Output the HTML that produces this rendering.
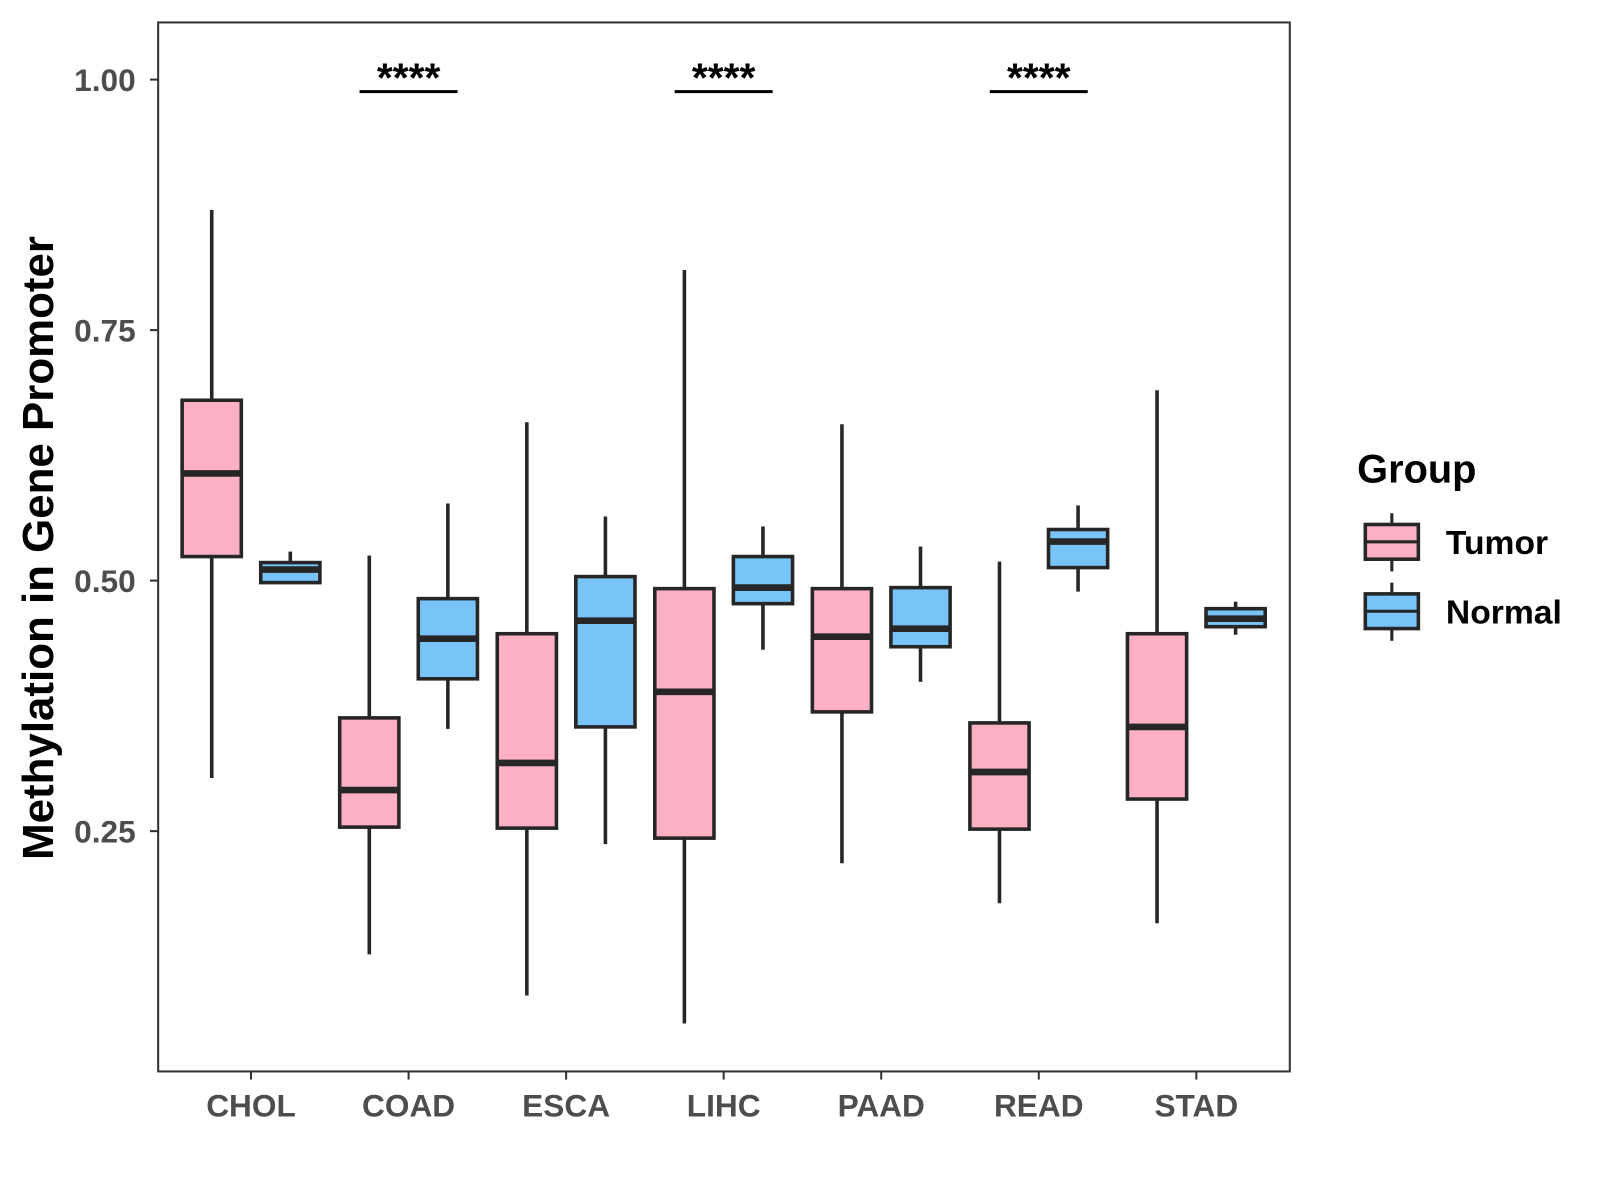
<!DOCTYPE html>
<html><head><meta charset="utf-8"><style>
body{margin:0;background:#fff;}
svg{display:block;font-family:"Liberation Sans",Arial,sans-serif;}
</style></head><body>
<svg id="chart" width="1600" height="1200" viewBox="0 0 1568 1176">
<rect x="0" y="0" width="1568" height="1176" fill="#fff"/>
<g id="plot"></g>
</svg>
<script>
const categories = ["CHOL","COAD","ESCA","LIHC","PAAD","READ","STAD"];
const tumorLow  = [0.303,0.127,0.086,0.058,0.218,0.178,0.158];
const tumorQ1   = [0.524,0.254,0.253,0.243,0.369,0.252,0.282];
const tumorMed  = [0.607,0.291,0.318,0.389,0.444,0.309,0.354];
const tumorQ3   = [0.680,0.363,0.447,0.492,0.492,0.358,0.447];
const tumorHigh = [0.870,0.525,0.658,0.810,0.656,0.519,0.690];
const normalLow  = [0.498,0.352,0.237,0.431,0.399,0.489,0.446];
const normalQ1   = [0.498,0.402,0.354,0.477,0.434,0.513,0.454];
const normalMed  = [0.511,0.442,0.460,0.493,0.452,0.539,0.462];
const normalQ3   = [0.518,0.482,0.504,0.524,0.493,0.551,0.472];
const normalHigh = [0.529,0.577,0.564,0.554,0.534,0.575,0.479];
const yTicks = [0.25,0.50,0.75,1.00];
const yTickLabels = ["0.25","0.50","0.75","1.00"];
const sigCategories = ["COAD","LIHC","READ"];
const sigLabels = ["****","****","****"];
const sigLevel = 0.988;

const NS="http://www.w3.org/2000/svg";
const g=document.getElementById('plot');
const L=155,R=1264,T=22,B=1050;
function y(v){return 569-(v-0.5)*982;}
function x(i){return 246+i*154.4;}
function mk(tag,attrs,parent){const e=document.createElementNS(NS,tag);for(const k in attrs)e.setAttribute(k,attrs[k]);(parent||g).appendChild(e);return e;}
const line="#262626";

yTicks.forEach((v,i)=>{
  const t=mk('line',{x1:L-8,x2:L,y1:y(v),y2:y(v),stroke:"#333","stroke-width":2});
  
  
  const tx=mk('text',{x:L-22,y:y(v)+11,"text-anchor":"end","font-size":31,"font-weight":"bold",fill:"#4d4d4d"});
  tx.textContent=yTickLabels[i];
  
  
});
categories.forEach((c,i)=>{
  const t=mk('line',{x1:x(i),x2:x(i),y1:B,y2:B+8,stroke:"#333","stroke-width":2});
  
  
  const tx=mk('text',{x:x(i),y:B+44,"text-anchor":"middle","font-size":31,"font-weight":"bold",fill:"#4d4d4d"});
  tx.textContent=c;
  
  
});

function box(cx,lo,q1,md,q3,hi,fill,name){
  const w=58;
  const gg=mk('g',{});
  
  
  mk('line',{x1:cx,x2:cx,y1:y(hi),y2:y(q3),stroke:line,"stroke-width":3.5},gg);
  mk('line',{x1:cx,x2:cx,y1:y(q1),y2:y(lo),stroke:line,"stroke-width":3.5},gg);
  mk('rect',{x:cx-w/2,y:y(q3),width:w,height:Math.max(0.5,y(q1)-y(q3)),fill:fill,stroke:line,"stroke-width":3.5},gg);
  mk('line',{x1:cx-w/2,x2:cx+w/2,y1:y(md),y2:y(md),stroke:line,"stroke-width":6.5},gg);
}
categories.forEach((c,i)=>{
  box(x(i)-38.5,tumorLow[i],tumorQ1[i],tumorMed[i],tumorQ3[i],tumorHigh[i],"#FBB0C3","box-tumor-"+c.toLowerCase());
  box(x(i)+38.5,normalLow[i],normalQ1[i],normalMed[i],normalQ3[i],normalHigh[i],"#78C3F7","box-normal-"+c.toLowerCase());
});
sigCategories.forEach((c,k)=>{
  const i=categories.indexOf(c);
  const l=mk('line',{x1:x(i)-48,x2:x(i)+48,y1:y(sigLevel),y2:y(sigLevel),stroke:"#000","stroke-width":3});
  
  
  const t=mk('text',{x:x(i),y:y(sigLevel),"text-anchor":"middle","font-size":40,"font-weight":"bold",fill:"#000"});
  t.textContent=sigLabels[k];
  
  
});
const fr=mk('rect',{x:L,y:T,width:R-L,height:B-T,fill:"none",stroke:"#333","stroke-width":2});


</script>
<svg style="position:absolute;left:0;top:0" width="1600" height="1200" viewBox="0 0 1568 1176">
<text x="52" y="537" transform="rotate(-90 52 537)" text-anchor="middle" font-size="43" font-weight="bold" fill="#000">Methylation in Gene Promoter</text>
<text x="1330" y="473" font-size="39" font-weight="bold" fill="#000">Group</text>
<g>
<line x1="1364" y1="503" x2="1364" y2="560" stroke="#262626" stroke-width="3"/>
<rect x="1338" y="514" width="52" height="34" fill="#FBB0C3" stroke="#262626" stroke-width="3.5"/>
<line x1="1338" y1="531" x2="1390" y2="531" stroke="#262626" stroke-width="3"/>
<text x="1417" y="543" font-size="33" font-weight="bold" fill="#000">Tumor</text>
</g>
<g>
<line x1="1364" y1="571" x2="1364" y2="628" stroke="#262626" stroke-width="3"/>
<rect x="1338" y="582" width="52" height="34" fill="#78C3F7" stroke="#262626" stroke-width="3.5"/>
<line x1="1338" y1="599" x2="1390" y2="599" stroke="#262626" stroke-width="3"/>
<text x="1417" y="611" font-size="33" font-weight="bold" fill="#000">Normal</text>
</g>
</svg>
</body></html>
